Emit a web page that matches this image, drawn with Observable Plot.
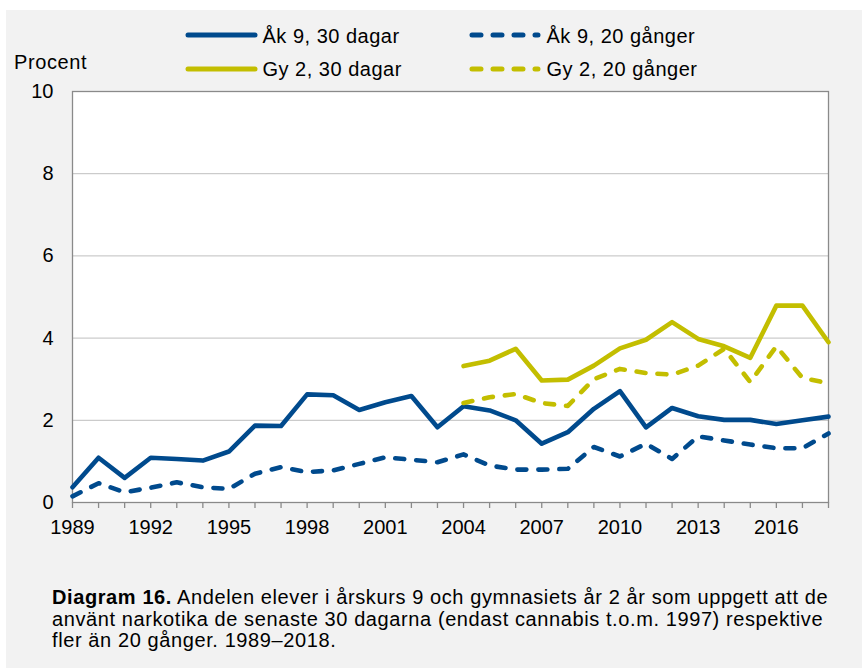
<!DOCTYPE html>
<html>
<head>
<meta charset="utf-8">
<script src="https://cdn.jsdelivr.net/npm/d3@7"></script>
<script src="https://cdn.jsdelivr.net/npm/@observablehq/plot@0.6"></script>
<style>
  body { margin: 0; background: #ffffff; font-family: "Liberation Sans", Arial, sans-serif; }
  #wrap { position: absolute; left: 6px; top: 10px; width: 856px; height: 658px; background: #f2f2f2; overflow: hidden; }
  #chart { position: absolute; left: 0; top: 0; }
  .txt { position: absolute; font-size: 20px; line-height: 20px; color: #000; white-space: nowrap; letter-spacing: 0.5px; }
  .sample { position: absolute; overflow: visible; }
  .cap { position: absolute; font-size: 20px; line-height: 21.5px; color: #000; white-space: pre; letter-spacing: 0.6px; }
</style>
</head>
<body>
<div id="wrap">
  <div id="chart"></div>
  <div class="txt" style="left:8px; top:42px; letter-spacing:0.6px;">Procent</div>
  <div id="legend"></div>
  <div id="captionBox"></div>
</div>
<script>
// ---- Data ----
const years = [1989, 1990, 1991, 1992, 1993, 1994, 1995, 1996, 1997, 1998, 1999, 2000, 2001, 2002, 2003,
               2004, 2005, 2006, 2007, 2008, 2009, 2010, 2011, 2012, 2013, 2014, 2015, 2016, 2017, 2018];
const gyYears = [2004, 2005, 2006, 2007, 2008, 2009, 2010, 2011, 2012, 2013, 2014, 2015, 2016, 2017, 2018];

const ak9_30dagar = [0.37, 1.09, 0.6, 1.09, 1.06, 1.02, 1.24, 1.87, 1.86, 2.63, 2.61, 2.25, 2.44, 2.59, 1.83,
                     2.34, 2.24, 2.0, 1.43, 1.71, 2.28, 2.71, 1.83, 2.3, 2.1, 2.01, 2.01, 1.91, 2.0, 2.09];
const ak9_20ganger = [0.15, 0.47, 0.25, 0.36, 0.49, 0.37, 0.33, 0.7, 0.86, 0.74, 0.78, 0.94, 1.1, 1.04, 0.98,
                      1.17, 0.9, 0.8, 0.8, 0.82, 1.35, 1.12, 1.43, 1.06, 1.61, 1.51, 1.41, 1.32, 1.32, 1.68];
const gy2_30dagar = [3.32, 3.45, 3.74, 2.97, 2.99, 3.33, 3.75, 3.96, 4.39, 3.98, 3.8, 3.52, 4.79, 4.79, 3.9];
const gy2_20ganger = [2.42, 2.56, 2.64, 2.42, 2.35, 3.0, 3.25, 3.15, 3.11, 3.33, 3.74, 2.93, 3.8, 3.03, 2.9];

const seriesNames = ["Åk 9, 30 dagar", "Åk 9, 20 gånger", "Gy 2, 30 dagar", "Gy 2, 20 gånger"];
const yTicks = [0, 2, 4, 6, 8, 10];
const xLabelYears = [1989, 1992, 1995, 1998, 2001, 2004, 2007, 2010, 2013, 2016];
const captionBold = "Diagram 16.";
const captionLine1 = " Andelen elever i årskurs 9 och gymnasiets år 2 år som uppgett att de";
const captionRest = "använt narkotika de senaste 30 dagarna (endast cannabis t.o.m. 1997) respektive\nfler än 20 gånger. 1989–2018.";

// ---- Styles ----
const BLUE = "#004a8d";
const YELLOW = "#c3be00";
const DASH = "9,12";
const styles = [
  {color: BLUE, dash: null},
  {color: BLUE, dash: DASH},
  {color: YELLOW, dash: null},
  {color: YELLOW, dash: DASH}
];

const toRows = (xs, vs) => xs.map((x, i) => ({year: x, value: vs[i]}));
const seriesData = [
  toRows(years, ak9_30dagar),
  toRows(years, ak9_20ganger),
  toRows(gyYears, gy2_30dagar),
  toRows(gyYears, gy2_20ganger)
];

const lineMarks = seriesData.map((rows, i) =>
  Plot.line(rows, {
    x: "year", y: "value",
    stroke: styles[i].color,
    strokeWidth: 4.6,
    strokeLinejoin: "round",
    strokeLinecap: "round",
    strokeDasharray: styles[i].dash ?? undefined
  })
);

const chart = Plot.plot({
  width: 856,
  height: 540,
  marginLeft: 66,
  marginRight: 34,
  marginTop: 81,
  marginBottom: 48,
  style: {background: "transparent", fontFamily: "Liberation Sans, Arial, sans-serif", fontSize: "20px", color: "#000", overflow: "visible"},
  x: {domain: [1989, 2018], label: null},
  y: {domain: [0, 10], label: null},
  marks: [
    Plot.frame({fill: "white", stroke: null}),
    Plot.gridY(yTicks, {stroke: "#bfbfbf", strokeOpacity: 1, strokeWidth: 1}),
    Plot.frame({stroke: "#8a8a8a", strokeWidth: 1.3}),
    ...lineMarks,
    Plot.axisY(yTicks, {tickSize: 0, tickPadding: 19, fontSize: 20, tickFormat: d => String(d), label: null}),
    Plot.axisX(years, {tickSize: 6, tickFormat: () => "", stroke: "#8a8a8a", strokeWidth: 1.3, label: null}),
    Plot.axisX(xLabelYears, {tickSize: 0, tickPadding: 17, fontSize: 20, tickFormat: d => String(d), label: null})
  ]
});
document.getElementById("chart").appendChild(chart);

// ---- Legend (HTML) ----
const legendPos = [
  {lx1: 181.5, lx2: 248.5, ly: 25, tx: 256.5, ty: 15.5},
  {lx1: 465.5, lx2: 531.5, ly: 25, tx: 540.5, ty: 15.5},
  {lx1: 181.5, lx2: 248.5, ly: 59, tx: 256.5, ty: 48.5},
  {lx1: 465.5, lx2: 531.5, ly: 59, tx: 540.5, ty: 48.5}
];
const legend = document.getElementById("legend");
seriesNames.forEach((name, i) => {
  const p = legendPos[i];
  const svg = document.createElementNS("http://www.w3.org/2000/svg", "svg");
  svg.setAttribute("class", "sample");
  svg.setAttribute("width", 120);
  svg.setAttribute("height", 20);
  svg.style.left = (p.lx1 - 10) + "px";
  svg.style.top = (p.ly - 10) + "px";
  const ln = document.createElementNS("http://www.w3.org/2000/svg", "line");
  ln.setAttribute("x1", 10);
  ln.setAttribute("x2", 10 + p.lx2 - p.lx1);
  ln.setAttribute("y1", 10);
  ln.setAttribute("y2", 10);
  ln.setAttribute("stroke", styles[i].color);
  ln.setAttribute("stroke-width", 5);
  ln.setAttribute("stroke-linecap", "round");
  if (styles[i].dash) ln.setAttribute("stroke-dasharray", styles[i].dash);
  svg.appendChild(ln);
  legend.appendChild(svg);
  const t = document.createElement("div");
  t.className = "txt";
  t.style.left = p.tx + "px";
  t.style.top = p.ty + "px";
  t.textContent = name;
  legend.appendChild(t);
});

// ---- Caption (separate non-overlapping pieces) ----
const capBox = document.getElementById("captionBox");
const capLeft = 46, capTop = 577, capLH = 21.5;
const bEl = document.createElement("div");
bEl.className = "cap";
bEl.style.fontWeight = "bold";
bEl.style.left = capLeft + "px";
bEl.style.top = capTop + "px";
bEl.textContent = captionBold;
capBox.appendChild(bEl);
const bw = bEl.getBoundingClientRect().width;
const l1 = document.createElement("div");
l1.className = "cap";
l1.style.left = (capLeft + bw) + "px";
l1.style.top = capTop + "px";
l1.textContent = captionLine1;
capBox.appendChild(l1);
const rest = document.createElement("div");
rest.className = "cap";
rest.style.left = capLeft + "px";
rest.style.top = (capTop + capLH) + "px";
rest.textContent = captionRest;
capBox.appendChild(rest);
</script>
</body>
</html>
